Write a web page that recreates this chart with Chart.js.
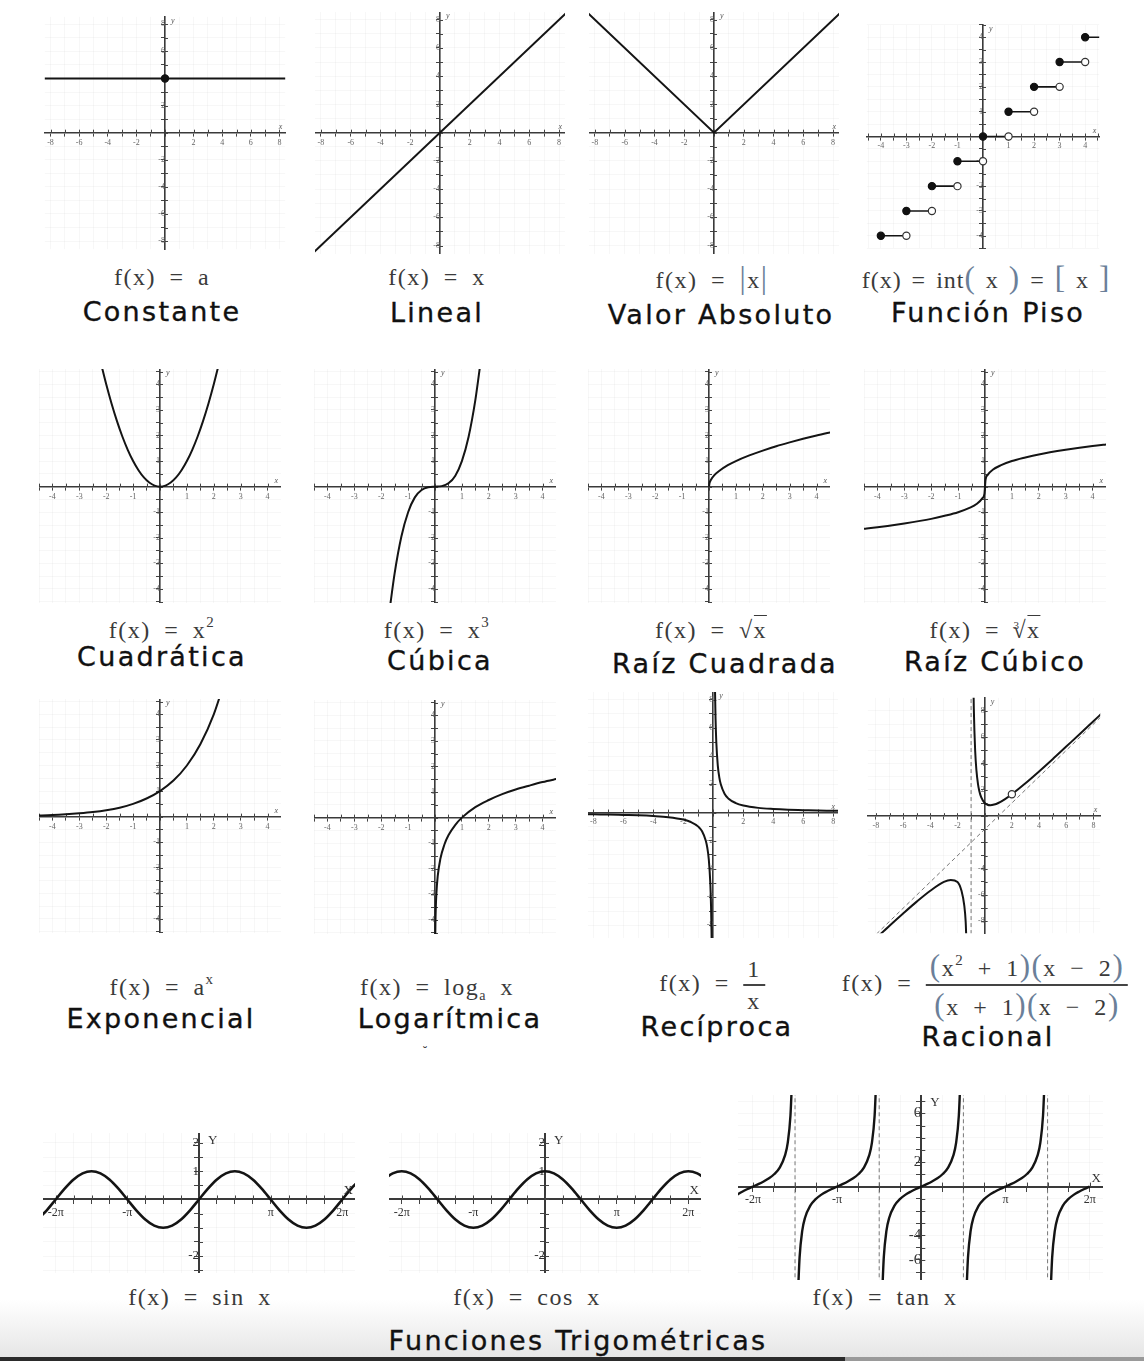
<!DOCTYPE html>
<html><head><meta charset="utf-8">
<script src="https://cdn.jsdelivr.net/npm/chart.js@4.4.1/dist/chart.umd.min.js"></script>
<style>
html,body{margin:0;padding:0;background:#fff;}
body{width:1144px;height:1361px;position:relative;overflow:hidden;}
canvas.plot{position:absolute;}
.lbl{position:absolute;transform:translate(-50%,-50%);white-space:nowrap;line-height:1;}
.fx{font-family:'Liberation Serif','Times New Roman',serif;font-size:24px;color:#3a3a3a;letter-spacing:1.5px;word-spacing:6px;}
.nm{font-family:'DejaVu Sans',Verdana,sans-serif;font-size:27px;color:#111;letter-spacing:2.3px;-webkit-text-stroke:0.35px #111;}
.sup{font-size:15px;position:relative;top:-11px;}
.sub{font-size:14px;position:relative;top:5px;}
.big{font-size:31px;color:#6b7f99;font-weight:300;}
.frac{display:inline-flex;flex-direction:column;align-items:center;vertical-align:middle;}
.frac .n{border-bottom:2px solid #444;padding:0 4px 3px 4px;}
.frac .d{padding-top:3px;}
.ov{border-top:1.5px solid #3a3a3a;padding-top:1px;}
#band{position:absolute;left:0;top:1300px;width:1144px;height:57px;background:linear-gradient(#ffffff,#e6e6e6);}
#bar1{position:absolute;left:0;top:1357px;width:845px;height:4px;background:#2b2b2b;}
#bar2{position:absolute;left:845px;top:1357px;width:299px;height:4px;background:#9a9a9a;}
</style></head><body>
<div id="band"></div><div id="bar1"></div><div id="bar2"></div>

<canvas class="plot" id="p1"></canvas><canvas class="plot" id="p2"></canvas><canvas class="plot" id="p3"></canvas><canvas class="plot" id="p4"></canvas>
<canvas class="plot" id="p5"></canvas><canvas class="plot" id="p6"></canvas><canvas class="plot" id="p7"></canvas><canvas class="plot" id="p8"></canvas>
<canvas class="plot" id="p9"></canvas><canvas class="plot" id="p10"></canvas><canvas class="plot" id="p11"></canvas><canvas class="plot" id="p12"></canvas>
<canvas class="plot" id="p13"></canvas><canvas class="plot" id="p14"></canvas><canvas class="plot" id="p15"></canvas>

<!-- Row 1 labels -->
<div class="lbl fx" style="left:162px;top:277px">f(x) = a</div>
<div class="lbl nm" style="left:162px;top:311px">Constante</div>
<div class="lbl fx" style="left:437px;top:277px">f(x) = x</div>
<div class="lbl nm" style="left:437px;top:312px">Lineal</div>
<div class="lbl fx" style="left:712px;top:277px">f(x) = <span class="big">|</span>x<span class="big">|</span></div>
<div class="lbl nm" style="left:721px;top:314px">Valor Absoluto</div>
<div class="lbl fx" style="left:986px;top:277px;letter-spacing:1px;word-spacing:3px">f(x) = int<span class="big">(</span> x <span class="big">)</span> = <span class="big">[</span> x <span class="big">]</span></div>
<div class="lbl nm" style="left:988px;top:312px">Función Piso</div>
<!-- Row 2 labels -->
<div class="lbl fx" style="left:162px;top:630px">f(x) = x<span class="sup">2</span></div>
<div class="lbl nm" style="left:162px;top:656px">Cuadrática</div>
<div class="lbl fx" style="left:437px;top:630px">f(x) = x<span class="sup">3</span></div>
<div class="lbl nm" style="left:440px;top:660px">Cúbica</div>
<div class="lbl fx" style="left:711px;top:630px">f(x) = √<span class="ov">x</span></div>
<div class="lbl nm" style="left:725px;top:663px">Raíz Cuadrada</div>
<div class="lbl fx" style="left:985px;top:630px">f(x) = <span style="font-size:11px;position:relative;top:-9px;margin-right:-8px;">3</span>√<span class="ov">x</span></div>
<div class="lbl nm" style="left:995px;top:661px">Raíz Cúbico</div>
<!-- Row 3 labels -->
<div class="lbl fx" style="left:162px;top:987px">f(x) = a<span class="sup">x</span></div>
<div class="lbl nm" style="left:161px;top:1018px">Exponencial</div>
<div class="lbl fx" style="left:437px;top:987px">f(x) = log<span class="sub">a</span> x</div>
<div class="lbl nm" style="left:450px;top:1018px">Logarítmica</div>
<div class="lbl" style="left:425px;top:1052px;font-size:12px;color:#444;font-family:'DejaVu Sans'">˘</div>
<div class="lbl fx" style="left:712px;top:985px">f(x) = <span class="frac"><span class="n">1</span><span class="d">x</span></span></div>
<div class="lbl nm" style="left:717px;top:1026px">Recíproca</div>
<div class="lbl fx" style="left:985px;top:985px">f(x) = <span class="frac"><span class="n"><span class="big">(</span>x<span class="sup">2</span> + 1<span class="big">)(</span>x − 2<span class="big">)</span></span><span class="d"><span class="big">(</span>x + 1<span class="big">)(</span>x − 2<span class="big">)</span></span></span></div>
<div class="lbl nm" style="left:988px;top:1036px">Racional</div>
<!-- Row 4 labels -->
<div class="lbl fx" style="left:200px;top:1297px">f(x) = sin x</div>
<div class="lbl fx" style="left:527px;top:1297px">f(x) = cos x</div>
<div class="lbl fx" style="left:885px;top:1297px">f(x) = tan x</div>
<div class="lbl nm" style="left:578px;top:1340px">Funciones Trigométricas</div>

<script>
// ---------------- DATA ----------------
// tick values
const ticks8 = [-8,-7,-6,-5,-4,-3,-2,-1,0,1,2,3,4,5,6,7,8];
const labels8 = [-8,-6,-4,-2,2,4,6,8];
const ticks4 = [-4.5,-4,-3.5,-3,-2.5,-2,-1.5,-1,-0.5,0,0.5,1,1.5,2,2.5,3,3.5,4,4.5];
const labels4 = [-4,-3,-2,-1,1,2,3,4];
const trigTicksX = [-6.283,-5.498,-4.712,-3.927,-3.142,-2.356,-1.571,-0.785,0,0.785,1.571,2.356,3.142,3.927,4.712,5.498,6.283];
const trigLabelValsX = [-6.283,-3.142,3.142,6.283];
const trigLabelTextX = ['-2π','-π','π','2π'];
const sinTicksY = [-2.5,-2,-1.5,-1,-0.5,0,0.5,1,1.5,2];
const sinLabelsY = [-2,1,2];
const tanTicksY = [-7,-6,-5,-4,-3,-2,-1,0,1,2,3,4,5,6,7];
const tanLabelsY = [-6,-4,2,6];

// Constante
const constX = [-8.6, 8.6];
const constY = [4, 4];
const constDotX = [0];
const constDotY = [4];
// Lineal
const linX = [-8.8, 8.8];
const linY = [-8.8, 8.8];
// Valor absoluto
const absX = [-8.8, 0, 8.8];
const absY = [8.8, 0, 8.8];
// Función piso
const pisoStartX = [-4,-3,-2,-1,0,1,2,3,4];
const pisoEndX   = [-3,-2,-1,0,1,2,3,4,4.7];
const pisoY      = [-4,-3,-2,-1,0,1,2,3,4];
const pisoOpenX  = [-3,-2,-1,0,1,2,3,4];
const pisoOpenY  = [-4,-3,-2,-1,0,1,2,3];
// Cuadrática
const quadX = [-2.2,-2,-1.8,-1.6,-1.4,-1.2,-1,-0.8,-0.6,-0.4,-0.2,0,0.2,0.4,0.6,0.8,1,1.2,1.4,1.6,1.8,2,2.2];
const quadY = [4.84,4,3.24,2.56,1.96,1.44,1,0.64,0.36,0.16,0.04,0,0.04,0.16,0.36,0.64,1,1.44,1.96,2.56,3.24,4,4.84];
// Cúbica
const cubX = [-1.7,-1.5,-1.25,-1,-0.75,-0.5,-0.25,0,0.25,0.5,0.75,1,1.25,1.5,1.7];
const cubY = [-4.91,-3.38,-1.95,-1,-0.42,-0.13,-0.02,0,0.02,0.13,0.42,1,1.95,3.38,4.91];
// Raíz cuadrada
const sqrtX = [0,0.02,0.08,0.2,0.4,0.7,1,1.5,2,2.5,3,3.5,4,4.6];
const sqrtY = [0,0.14,0.28,0.45,0.63,0.84,1,1.22,1.41,1.58,1.73,1.87,2,2.14];
// Raíz cúbica
const cbrtX = [-4.6,-4,-3,-2,-1.5,-1,-0.6,-0.3,-0.1,-0.02,0,0.02,0.1,0.3,0.6,1,1.5,2,3,4,4.6];
const cbrtY = [-1.66,-1.59,-1.44,-1.26,-1.14,-1,-0.84,-0.67,-0.46,-0.27,0,0.27,0.46,0.67,0.84,1,1.14,1.26,1.44,1.59,1.66];
// Exponencial
const expX = [-4.6,-4,-3.5,-3,-2.5,-2,-1.5,-1,-0.5,0,0.5,1,1.5,2,2.4];
const expY = [0.04,0.06,0.09,0.13,0.18,0.25,0.35,0.5,0.71,1,1.41,2,2.83,4,5.28];
// Logarítmica
const logX = [0.008,0.015,0.03,0.05,0.1,0.2,0.35,0.5,0.75,1,1.5,2,2.5,3,3.5,4,4.6];
const logY = [-4.83,-4.2,-3.51,-3.0,-2.3,-1.61,-1.05,-0.69,-0.29,0,0.41,0.69,0.92,1.1,1.25,1.39,1.53];
// Recíproca
const recPosX = [0.105,0.12,0.15,0.2,0.3,0.4,0.5,0.75,1,1.5,2,3,4,5,6,7,8,8.5];
const recPosY = [9.52,8.33,6.67,5,3.33,2.5,2,1.33,1,0.67,0.5,0.33,0.25,0.2,0.17,0.14,0.13,0.12];
const recNegX = [-8.5,-8,-7,-6,-5,-4,-3,-2,-1.5,-1,-0.75,-0.5,-0.4,-0.3,-0.2,-0.15,-0.12,-0.105];
const recNegY = [-0.12,-0.13,-0.14,-0.17,-0.2,-0.25,-0.33,-0.5,-0.67,-1,-1.33,-2,-2.5,-3.33,-5,-6.67,-8.33,-9.52];
// Racional
const racRightX = [-0.88,-0.85,-0.8,-0.7,-0.6,-0.5,-0.4,-0.25,0,0.2,0.41,0.7,1,1.5,2,3,4,5,6,7,8,8.6];
const racRightY = [14.79,11.48,8.2,4.97,3.4,2.5,1.93,1.42,1,0.87,0.83,0.88,1,1.3,1.67,2.5,3.4,4.33,5.29,6.25,7.22,7.8];
const racLeftX = [-8.7,-8,-7,-6,-5,-4,-3,-2.5,-2,-1.7,-1.5,-1.4,-1.35];
const racLeftY = [-9.96,-9.29,-8.33,-7.4,-6.5,-5.67,-5.0,-4.85,-5.0,-5.7,-6.8,-8.0,-9.3];
const racHoleX = [2];
const racHoleY = [1.67];
const racVertX = [-1,-1];
const racVertY = [-9.5,9.5];
const racObliqueX = [-8.7,8.6];
const racObliqueY = [-9.7,7.6];
// Seno y coseno
const trigX = [-7.069,-6.676,-6.283,-5.890,-5.498,-5.105,-4.712,-4.320,-3.927,-3.534,-3.142,-2.749,-2.356,-1.963,-1.571,-1.178,-0.785,-0.393,0,0.393,0.785,1.178,1.571,1.963,2.356,2.749,3.142,3.534,3.927,4.320,4.712,5.105,5.498,5.890,6.283,6.676,7.069];
const sinY = [-0.707,-0.383,0,0.383,0.707,0.924,1,0.924,0.707,0.383,0,-0.383,-0.707,-0.924,-1,-0.924,-0.707,-0.383,0,0.383,0.707,0.924,1,0.924,0.707,0.383,0,-0.383,-0.707,-0.924,-1,-0.924,-0.707,-0.383,0,0.383,0.707];
const cosY = [0.707,0.924,1,0.924,0.707,0.383,0,-0.383,-0.707,-0.924,-1,-0.924,-0.707,-0.383,0,0.383,0.707,0.924,1,0.924,0.707,0.383,0,-0.383,-0.707,-0.924,-1,-0.924,-0.707,-0.383,0,0.383,0.707,0.924,1,0.924,0.707];
// Tangente (ramas)
const tanY = [-8.24,-5.80,-3.60,-2.57,-1.56,-1.03,-0.68,-0.42,-0.20,0,0.20,0.42,0.68,1.03,1.56,2.57,3.60,5.80,8.24];
const tanXm2 = [-6.883,-6.683,-6.483,-6.283,-6.083,-5.883,-5.683,-5.483,-5.283,-5.083,-4.983,-4.883,-4.833];
const tanYm2 = [-0.68,-0.42,-0.20,0,0.20,0.42,0.68,1.03,1.56,2.57,3.60,5.80,8.24];
const tanXm1 = [-4.592,-4.542,-4.442,-4.342,-4.142,-3.942,-3.742,-3.542,-3.342,-3.142,-2.942,-2.742,-2.542,-2.342,-2.142,-1.942,-1.842,-1.742,-1.692];
const tanX0  = [-1.45,-1.4,-1.3,-1.2,-1.0,-0.8,-0.6,-0.4,-0.2,0,0.2,0.4,0.6,0.8,1.0,1.2,1.3,1.4,1.45];
const tanXp1 = [1.692,1.742,1.842,1.942,2.142,2.342,2.542,2.742,2.942,3.142,3.342,3.542,3.742,3.942,4.142,4.342,4.442,4.542,4.592];
const tanXp2 = [4.833,4.883,4.983,5.083,5.283,5.483,5.683,5.883,6.083,6.283];
const tanYp2 = [-8.24,-5.80,-3.60,-2.57,-1.56,-1.03,-0.68,-0.42,-0.20,0];
const tanAsymX = [-4.712,-1.571,1.571,4.712];
const tanAsymY = [-8,8];

// ---------------- HELPERS ----------------
const pts = (xs, ys) => xs.map((x, i) => ({x, y: ys[i]}));
function curve(xs, ys, o) {
  return Object.assign({data: pts(xs, ys), showLine: true, borderColor: '#141414', borderWidth: 2,
    pointRadius: 0, pointHoverRadius: 0, cubicInterpolationMode: 'monotone'}, o || {});
}
function straight(xs, ys, o) {
  return Object.assign({data: pts(xs, ys), showLine: true, borderColor: '#141414', borderWidth: 2,
    pointRadius: 0, pointHoverRadius: 0, tension: 0}, o || {});
}
function dashed(xs, ys) {
  return straight(xs, ys, {borderColor: '#777', borderWidth: 1, borderDash: [4, 3]});
}
function dots(xs, ys, open) {
  return {data: pts(xs, ys), showLine: false, pointRadius: 3.6, pointHoverRadius: 3.6,
    pointBackgroundColor: open ? '#ffffff' : '#111', pointBorderColor: open ? '#333' : '#111', pointBorderWidth: 1.2};
}

function makeScale(axis, min, max, tickVals, labelFn, font, color, tickLen, bw, pad) {
  return {
    type: 'linear', min, max,
    position: axis === 'x' ? {y: 0} : {x: 0},
    afterBuildTicks: s => { s.ticks = tickVals.map(v => ({value: v})); },
    afterFit: s => { s.paddingLeft = 0; s.paddingRight = 0; s.paddingTop = 0; s.paddingBottom = 0; },
    ticks: {autoSkip: false, maxRotation: 0, minRotation: 0, padding: pad, font, color,
      callback: v => labelFn(v)},
    grid: {color: 'rgba(0,0,0,0.03)', tickColor: '#444', tickLength: tickLen, lineWidth: 1},
    border: {color: '#3a3a3a', width: bw}
  };
}
const numLabel = list => v => list.includes(v) ? String(v) : '';
const piLabel = v => { const i = trigLabelValsX.indexOf(v); return i >= 0 ? trigLabelTextX[i] : ''; };

// letters at axis ends + the other half of each tick mark (ticks cross the axis)
const axisDecor = {
  id: 'axisDecor',
  beforeDatasetsDraw(chart, args, o) {
    if (!o || !o.on) return;
    const {ctx, scales} = chart;
    const x0 = scales.x.getPixelForValue(0), y0 = scales.y.getPixelForValue(0);
    ctx.save();
    ctx.strokeStyle = '#444'; ctx.lineWidth = 1;
    ctx.beginPath();
    scales.x.ticks.forEach(t => { const p = Math.round(scales.x.getPixelForValue(t.value)) + 0.5; ctx.moveTo(p, y0); ctx.lineTo(p, y0 - o.tl); });
    scales.y.ticks.forEach(t => { const p = Math.round(scales.y.getPixelForValue(t.value)) + 0.5; ctx.moveTo(x0, p); ctx.lineTo(x0 + o.tl, p); });
    ctx.stroke();
    ctx.restore();
  },
  afterDraw(chart, args, o) {
    if (!o || !o.on) return;
    const {ctx, chartArea: a, scales} = chart;
    const x0 = scales.x.getPixelForValue(0), y0 = scales.y.getPixelForValue(0);
    ctx.save();
    ctx.font = o.font; ctx.fillStyle = o.color;
    ctx.textAlign = 'left'; ctx.textBaseline = 'top';
    ctx.fillText(o.y, x0 + o.dx, a.top + o.dy);
    ctx.textAlign = 'right'; ctx.textBaseline = 'bottom';
    ctx.fillText(o.x, a.right - o.rx, y0 - o.up);
    ctx.restore();
  }
};
Chart.register(axisDecor);

function plot(id, box, xr, yr, xt, yt, xl, yl, datasets, big, yFontSize) {
  const c = document.getElementById(id);
  c.width = box[2]; c.height = box[3];
  c.style.left = box[0] + 'px'; c.style.top = box[1] + 'px';
  const font = big ? {family: 'Liberation Serif', size: 12} : {family: 'Liberation Serif', size: 8};
  const yfont = yFontSize ? {family: 'Liberation Serif', size: yFontSize} : font;
  const col = big ? '#333' : '#666';
  const tl = big ? 4 : 3;
  const bw = big ? 2 : 1.6;
  new Chart(c, {
    type: 'scatter',
    data: {datasets},
    options: {
      responsive: false, animation: false, events: [],
      layout: {padding: 0},
      plugins: {legend: {display: false}, tooltip: {enabled: false},
        axisDecor: big ? {on: true, tl, x: 'X', y: 'Y', font: '13px Liberation Serif', color: '#333', dx: 9, dy: 1, rx: 2, up: 2}
                       : {on: true, tl, x: 'x', y: 'y', font: 'italic 8px Liberation Serif', color: '#555', dx: 6, dy: 0, rx: 3, up: 2}},
      scales: {
        x: makeScale('x', xr[0], xr[1], xt, xl, font, col, tl, bw, 2),
        y: makeScale('y', yr[0], yr[1], yt, yl, yfont, col, tl, bw, big ? 6 : 2)
      }
    }
  });
}

// ---------------- CHARTS ----------------
const L8 = numLabel(labels8), L4 = numLabel(labels4);
plot('p1', [40, 12, 250, 242], [-8.4, 8.4], [-8.6, 8.55], ticks8, ticks8, L8, L8,
  [dots(constDotX, constDotY, false), straight(constX, constY)]);
plot('p2', [315, 12, 250, 242], [-8.4, 8.4], [-8.6, 8.55], ticks8, ticks8, L8, L8,
  [straight(linX, linY)]);
plot('p3', [589, 12, 250, 242], [-8.4, 8.4], [-8.6, 8.55], ticks8, ticks8, L8, L8,
  [straight(absX, absY)]);
const pisoSets = [dots(pisoStartX, pisoY, false), dots(pisoOpenX, pisoOpenY, true)];
pisoStartX.forEach((x, i) => pisoSets.push(straight([x, pisoEndX[i]], [pisoY[i], pisoY[i]], {borderWidth: 1.6})));
plot('p4', [862, 20, 242, 233], [-4.55, 4.55], [-4.5, 4.5], ticks4, ticks4, L4, L4, pisoSets);

plot('p5', [39, 369, 242, 234], [-4.5, 4.5], [-4.55, 4.6], ticks4, ticks4, L4, L4, [curve(quadX, quadY)]);
plot('p6', [314, 369, 242, 234], [-4.5, 4.5], [-4.55, 4.6], ticks4, ticks4, L4, L4, [curve(cubX, cubY)]);
plot('p7', [588, 369, 242, 234], [-4.5, 4.5], [-4.55, 4.6], ticks4, ticks4, L4, L4, [curve(sqrtX, sqrtY)]);
plot('p8', [864, 369, 242, 234], [-4.5, 4.5], [-4.55, 4.6], ticks4, ticks4, L4, L4, [curve(cbrtX, cbrtY)]);

plot('p9', [39, 699, 242, 234], [-4.5, 4.5], [-4.55, 4.6], ticks4, ticks4, L4, L4, [curve(expX, expY)]);
plot('p10', [314, 700, 242, 234], [-4.5, 4.5], [-4.55, 4.6], ticks4, ticks4, L4, L4, [curve(logX, logY)]);
plot('p11', [588, 692, 250, 246], [-8.36, 8.32], [-8.9, 8.55], ticks8, ticks8, L8, L8,
  [curve(recPosX, recPosY), curve(recNegX, recNegY)]);
plot('p12', [863, 693, 242, 245], [-8.6, 8.5], [-8.9, 9.0], ticks8, ticks8, L8, numLabel([-8,-6,-4,2,4,6,8]),
  [dots(racHoleX, racHoleY, true), curve(racRightX, racRightY), curve(racLeftX, racLeftY),
   dashed(racVertX, racVertY), dashed(racObliqueX, racObliqueY)]);

plot('p13', [43, 1133, 312, 140], [-6.84, 6.84], [-2.6, 2.35], trigTicksX, sinTicksY, piLabel, numLabel(sinLabelsY),
  [curve(trigX, sinY, {borderWidth: 2.6})], true, 13);
plot('p14', [389, 1133, 312, 140], [-6.84, 6.84], [-2.6, 2.35], trigTicksX, sinTicksY, piLabel, numLabel(sinLabelsY),
  [curve(trigX, cosY, {borderWidth: 2.6})], true, 13);
const tanSets = [curve(tanXm2, tanYm2, {borderWidth: 2.4}), curve(tanXm1, tanY, {borderWidth: 2.4}),
  curve(tanX0, tanY, {borderWidth: 2.4}), curve(tanXp1, tanY, {borderWidth: 2.4}), curve(tanXp2, tanYp2, {borderWidth: 2.4})];
tanAsymX.forEach(x => tanSets.push(dashed([x, x], tanAsymY)));
plot('p15', [738, 1095, 365, 185], [-6.84, 6.78], [-7.65, 7.5], trigTicksX, tanTicksY, piLabel, numLabel(tanLabelsY), tanSets, true, 15);
</script>
</body></html>
